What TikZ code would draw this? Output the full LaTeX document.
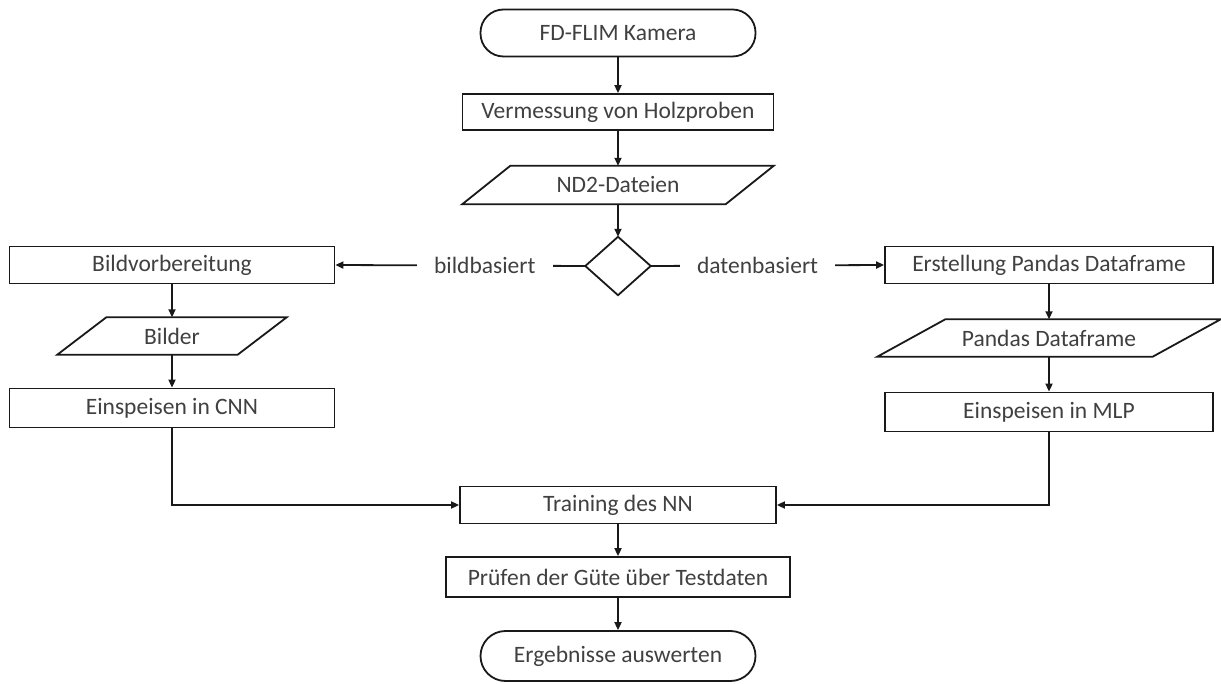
\documentclass[tikz,border=0pt]{standalone}
\usepackage{fontspec}
\setmainfont{Carlito}
\usetikzlibrary{arrows.meta,calc}
\definecolor{txt}{RGB}{64,64,64}
\begin{document}
\begin{tikzpicture}[x=1pt,y=-1pt,
  font=\fontsize{23.5}{28}\selectfont,
  every node/.style={text=txt},
  line/.style={draw=black!90,line width=1.8pt},
  arr/.style={line,-{Triangle[length=8pt,width=7pt]}},
  procbox/.style={line,rectangle,inner sep=0pt},
  plain/.style={rectangle,inner sep=0pt},
  term/.style={line,rectangle,rounded corners=23pt,inner sep=0pt},
  lbl/.style={fill=white,inner xsep=17pt,inner ysep=2pt}
]
\useasboundingbox[fill=white] (0,0) rectangle (1221,684);

\node[term,minimum width=275,minimum height=47] (cam) at (618,33) {FD-FLIM Kamera};
\node[procbox,minimum width=311,minimum height=36] (verm) at (618,112) {Vermessung von Holzproben};
\node[plain,minimum width=311,minimum height=38] (nd2) at (618,185) {ND2-Dateien};
\draw[line] ([xshift=48pt]nd2.north west) -- (nd2.north east) -- ([xshift=-48pt]nd2.south east) -- (nd2.south west) -- cycle;
\node[plain,minimum width=65,minimum height=58] (dia) at (618,266) {};
\draw[line,line join=miter] (dia.north) -- (dia.east) -- (dia.south) -- (dia.west) -- cycle;

\node[procbox,minimum width=325,minimum height=37] (bild) at (172,265) {Bildvorbereitung};
\node[plain,minimum width=229,minimum height=37] (bilder) at (172,336) {Bilder};
\draw[line] ([xshift=49pt]bilder.north west) -- (bilder.north east) -- ([xshift=-49pt]bilder.south east) -- (bilder.south west) -- cycle;
\node[procbox,minimum width=325,minimum height=39] (cnn) at (172,408) {Einspeisen in CNN};

\node[procbox,minimum width=328,minimum height=37] (erst) at (1049,265) {Erstellung Pandas Dataframe};
\node[plain,minimum width=343,minimum height=37] (pandas) at (1049,338) {Pandas Dataframe};
\draw[line] ([xshift=68pt]pandas.north west) -- (pandas.north east) -- ([xshift=-68pt]pandas.south east) -- (pandas.south west) -- cycle;
\node[procbox,minimum width=328,minimum height=39] (mlp) at (1049,412) {Einspeisen in MLP};

\node[procbox,minimum width=316,minimum height=37] (train) at (618,505) {Training des NN};
\node[procbox,minimum width=344,minimum height=40] (pruef) at (618,577) {Prüfen der Güte über Testdaten};
\node[term,rounded corners=25pt,minimum width=275,minimum height=50] (erg) at (618,656) {Ergebnisse auswerten};

\draw[arr] (cam.south) -- (verm.north);
\draw[arr] (verm.south) -- (nd2.north);
\draw[arr] (nd2.south) -- (dia.north);
\draw[arr] (dia.west) -- node[lbl,pos=0.402] {bildbasiert} (bild.east);
\draw[arr] (dia.east) -- node[lbl,pos=0.458] {datenbasiert} (erst.west);
\draw[arr] (bild.south) -- (bilder.north);
\draw[arr] (bilder.south) -- (cnn.north);
\draw[arr] (erst.south) -- (pandas.north);
\draw[arr] (pandas.south) -- (mlp.north);
\draw[arr] (cnn.south) |- (train.west);
\draw[arr] (mlp.south) |- (train.east);
\draw[arr] (train.south) -- (pruef.north);
\draw[arr] (pruef.south) -- (erg.north);
\end{tikzpicture}
\end{document}
